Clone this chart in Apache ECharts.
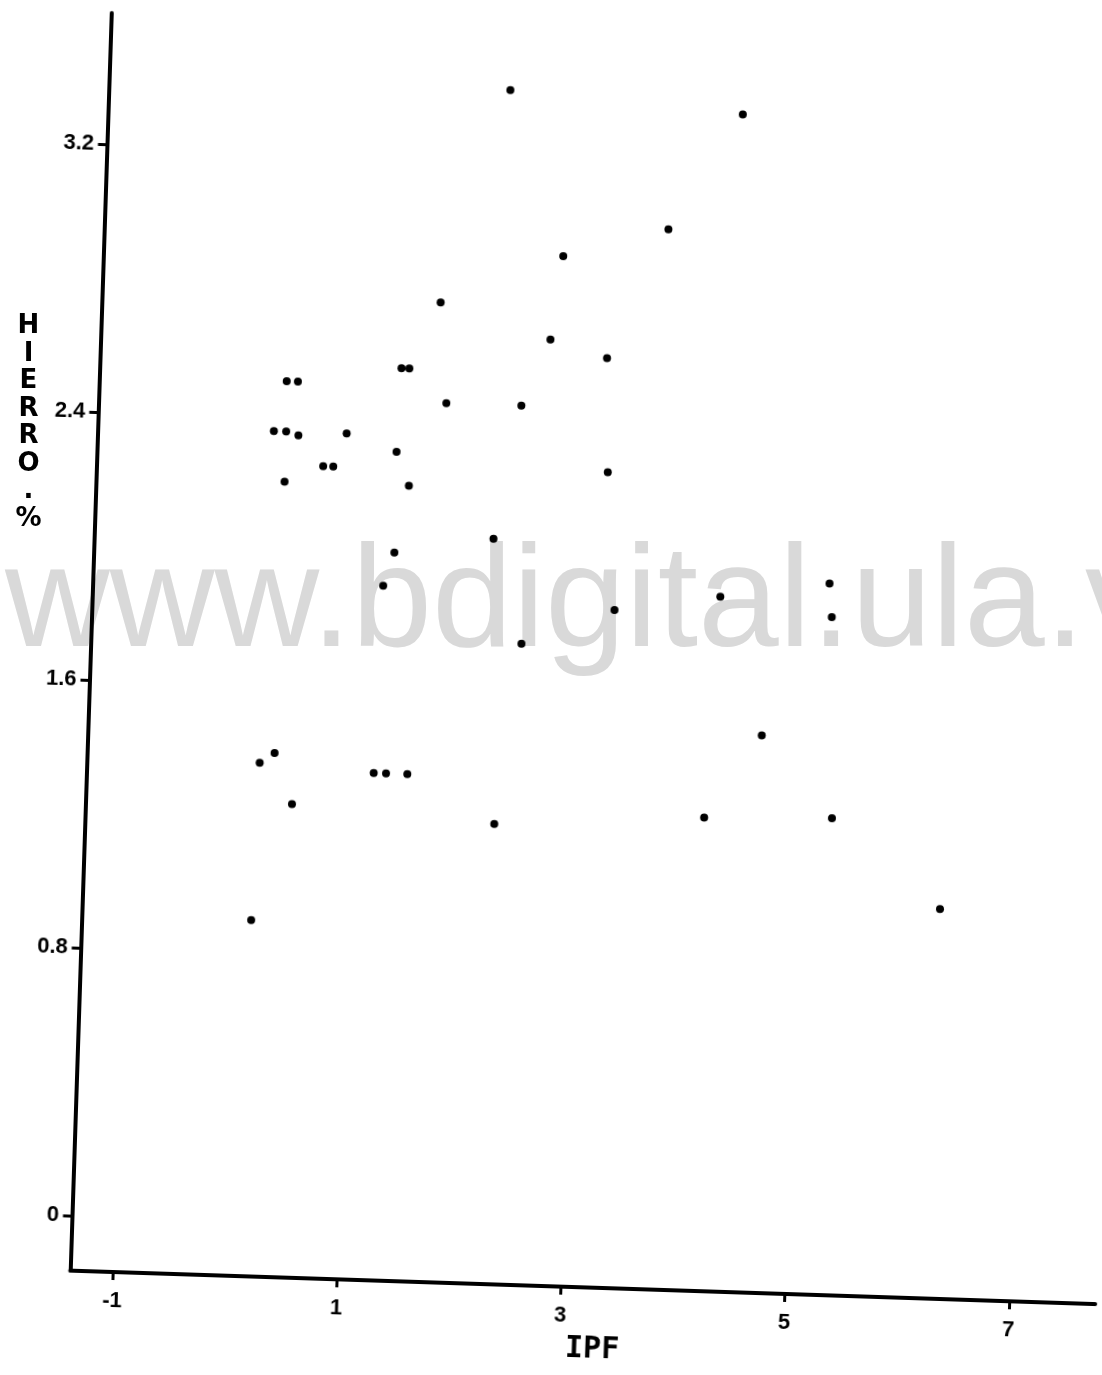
<!DOCTYPE html>
<html>
<head>
<meta charset="utf-8">
<script src="https://cdn.jsdelivr.net/npm/echarts@6/dist/echarts.min.js"></script>
<style>
  html, body { margin: 0; padding: 0; background: #fff; overflow: hidden; width: 1102px; height: 1375px; }
  #back { position: absolute; left: 0; top: 0; width: 1102px; height: 1375px; }
  /* the plotted sheet sits slightly turned on the page */
  #plot { position: absolute; left: 0; top: 0; width: 1130px; height: 1375px;
          transform-origin: 551px 687.5px; transform: rotate(1.87deg); }
</style>
</head>
<body>
<div id="back"></div>
<div id="plot"></div>
<script>
// IPF (x) against iron content in percent (y), one entry per sample
const ipf = [2.20, 4.28, 3.65, 2.72, 1.64, 2.63, 3.14, 1.31, 1.38, 0.29, 0.39, 1.72, 2.39,
             0.19, 0.30, 0.41, 0.84, 1.29, 0.64, 0.73, 0.30, 1.41, 3.18, 2.18, 1.30, 1.21,
             5.19, 4.22, 3.28, 5.22, 2.46, 4.63, 0.29, 0.16, 1.18, 1.29, 1.48, 0.46, 2.27,
             4.14, 5.28, 0.13, 6.27];
const hierro = [3.40, 3.35, 3.00, 2.91, 2.76, 2.66, 2.61, 2.56, 2.56, 2.51, 2.51, 2.46, 2.46,
                2.36, 2.36, 2.35, 2.36, 2.31, 2.26, 2.26, 2.21, 2.21, 2.27, 2.06, 2.01, 1.91,
                1.96, 1.91, 1.86, 1.86, 1.75, 1.50, 1.40, 1.37, 1.35, 1.35, 1.35, 1.25, 1.21,
                1.25, 1.26, 0.90, 1.00];
const xTicks = [-1, 1, 3, 5, 7];
const yTicks = [0, 0.8, 1.6, 2.4, 3.2];
const xTitle = 'IPF';
const yTitle = 'HIERRO.%';
const watermark = 'www.bdigital.ula.ve';

// background layer: repository watermark and the stacked y title
const back = echarts.init(document.getElementById('back'), null, { renderer: 'canvas' });
back.setOption({
  animation: false,
  graphic: [
    {
      type: 'text', x: 5, y: 606, z: 1,
      style: { text: watermark, fontFamily: 'Liberation Sans', fontSize: 145,
               fill: '#d9d9d9', align: 'left', verticalAlign: 'middle' }
    },
    {
      type: 'text', x: 28.5, y: 422.75, z: 2,
      style: { text: yTitle.split('').join('\n'), fontFamily: 'DejaVu Sans', fontWeight: 'bold',
               fontSize: 26, lineHeight: 27.5, fill: '#000', align: 'center', verticalAlign: 'middle' }
    }
  ]
});

// plot layer: axes and points
const plot = echarts.init(document.getElementById('plot'), null, { renderer: 'canvas' });
const axisFont = { color: '#000', fontFamily: 'Liberation Sans', fontWeight: 'bold' };
plot.setOption({
  animation: false,
  backgroundColor: 'transparent',
  grid: { left: 89.5, top: 27.7, right: 15, bottom: 89, containLabel: false, outerBoundsMode: 'none' },
  xAxis: {
    type: 'value', min: -1.382, max: 7.769,
    axisLine: { show: true, onZero: false, lineStyle: { color: '#000', width: 4, cap: 'round' } },
    axisTick: { show: true, customValues: xTicks, length: 8, lineStyle: { color: '#000', width: 3 } },
    axisLabel: Object.assign({ customValues: xTicks, margin: 18, fontSize: 22 }, axisFont),
    splitLine: { show: false }
  },
  yAxis: {
    type: 'value', min: -0.163, max: 3.591,
    axisLine: { show: true, onZero: false, lineStyle: { color: '#000', width: 4, cap: 'round' } },
    axisTick: { show: true, customValues: yTicks, length: 9, lineStyle: { color: '#000', width: 3 } },
    axisLabel: Object.assign({ customValues: yTicks, margin: 13, fontSize: 22 }, axisFont),
    splitLine: { show: false }
  },
  graphic: [
    {
      type: 'text', x: 613.6, y: 1348.3,
      style: { text: xTitle, fontFamily: 'DejaVu Sans Mono', fontWeight: 'bold', fontSize: 30,
               fill: '#000', align: 'center', verticalAlign: 'middle' }
    }
  ],
  series: [{
    type: 'scatter',
    symbol: 'circle',
    symbolSize: 8,
    itemStyle: { color: '#000', opacity: 1 },
    data: ipf.map((v, i) => [v, hierro[i]])
  }]
});
</script>
</body>
</html>
